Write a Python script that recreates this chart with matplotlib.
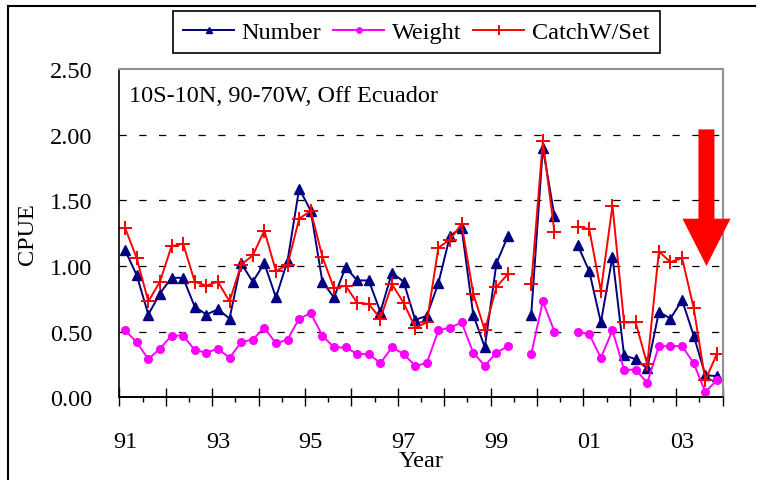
import numpy as np
import matplotlib
matplotlib.use("Agg")
import matplotlib.pyplot as plt
from matplotlib.lines import Line2D
from matplotlib.patches import FancyArrow

plt.rcParams['font.family'] = ['Liberation Serif', 'DejaVu Serif']

nan = np.nan

# quarterly CPUE, 1991 Q1 .. 2003 Q4 (gaps = no data)
number = [1.12, 0.93, 0.63, 0.79, 0.91, 0.91, 0.69, 0.63, 0.67, 0.60,
          1.02, 0.88, 1.02, 0.76, 1.04, 1.59, 1.42, 0.88, 0.76, 0.99,
          0.89, 0.89, 0.65, 0.95, 0.88, 0.59, 0.62, 0.87, 1.23, 1.29,
          0.63, 0.38, 1.02, 1.23, nan, 0.63, 1.90, 1.38, nan, 1.16,
          0.96, 0.57, 1.07, 0.32, 0.29, 0.22, 0.65, 0.60, 0.74, 0.47,
          0.17, 0.16]
weight = [0.51, 0.42, 0.29, 0.37, 0.47, 0.47, 0.36, 0.34, 0.37, 0.30,
          0.42, 0.44, 0.53, 0.41, 0.44, 0.60, 0.64, 0.47, 0.38, 0.38,
          0.33, 0.33, 0.26, 0.38, 0.33, 0.24, 0.26, 0.51, 0.53, 0.57,
          0.34, 0.24, 0.34, 0.39, nan, 0.33, 0.73, 0.50, nan, 0.50,
          0.48, 0.30, 0.51, 0.21, 0.21, 0.11, 0.39, 0.39, 0.39, 0.26,
          0.04, 0.13]
catch_set = [1.29, 1.06, 0.73, 0.88, 1.15, 1.17, 0.88, 0.85, 0.88, 0.73,
             1.01, 1.08, 1.27, 0.96, 1.01, 1.36, 1.42, 1.07, 0.83, 0.85,
             0.72, 0.71, 0.60, 0.86, 0.72, 0.53, 0.57, 1.14, 1.20, 1.32,
             0.79, 0.51, 0.84, 0.94, nan, 0.86, 1.95, 1.26, nan, 1.30,
             1.28, 0.81, 1.46, 0.57, 0.57, 0.25, 1.11, 1.03, 1.06, 0.68,
             0.13, 0.33]
year_labels = ['91', '93', '95', '97', '99', '01', '03']
y_ticks = [0.0, 0.5, 1.0, 1.5, 2.0, 2.5]

# big red "decline" arrow (x in quarters, y in CPUE)
arrow_x, arrow_top, arrow_tip = 50.1, 2.04, 1.0

FS = 17.5
n = len(number)
x = np.arange(n)

fig = plt.figure(figsize=(7.6, 4.81), dpi=100)
ax = fig.add_axes([119.3 / 760, 1 - 398.3 / 481, 603.4 / 760, 328.3 / 481])

ax.plot(x, number, color='#000080', lw=1.4, marker='^', ms=6.5, label='Number')
ax.plot(x, weight, color='#FF00FF', lw=1.4, marker='o', ms=5.5, label='Weight')
ax.plot(x, catch_set, color='#FF0000', lw=1.4, marker='+', ms=10, mew=1.4,
        label='CatchW/Set')

ax.set_xlim(-0.5, n - 0.5)
ax.set_ylim(0, 2.5)

# y axis
ax.set_yticks(y_ticks)
ax.set_yticklabels([f"{v:.2f}" for v in y_ticks], fontsize=FS)
ax.tick_params(axis='y', direction='in', length=0, pad=19.5)
for v in y_ticks[1:-1]:
    ax.axhline(v, color='black', lw=0.9, ls=(0, (5.8, 10)), zorder=0.5)

# x axis: long ticks at year boundaries, short at half years, labels every 2 yrs
ax.set_xticks(np.arange(-0.5, n, 4))
ax.set_xticklabels([])
ax.tick_params(axis='x', which='major', direction='inout', length=12.5, width=1.0)
ax.set_xticks(np.arange(0, n, 8), year_labels, minor=True, fontsize=FS)
ax.tick_params(axis='x', which='minor', length=0, pad=24)
sec = ax.secondary_xaxis('bottom')
sec.set_xticks(np.arange(1.5, n, 4))
sec.set_xticklabels([])
sec.tick_params(axis='x', direction='out', length=3.5, width=1.0)

ax.set_xlabel('Year', fontsize=FS, labelpad=-1)
ax.set_ylabel('CPUE', fontsize=FS, labelpad=8)

for s in ['top', 'right']:
    ax.spines[s].set_color('#909090')
    ax.spines[s].set_linewidth(1.5)
for s in ['left', 'bottom']:
    ax.spines[s].set_linewidth(1.2)
sec.spines['bottom'].set_linewidth(1.2)

ax.text(0.016, 0.9025, '10S-10N, 90-70W, Off Ecuador', transform=ax.transAxes,
        fontsize=FS, va='baseline', ha='left')

ax.add_patch(FancyArrow(arrow_x, arrow_top, 0, arrow_tip - arrow_top,
                        width=1.38, head_width=4.14, head_length=0.36,
                        length_includes_head=True, color='red', lw=0,
                        clip_on=False, zorder=5))

leg = fig.legend(loc='upper left', bbox_to_anchor=(173 / 760, 1 - 12 / 481),
                 ncol=3, fontsize=FS, frameon=True, fancybox=False,
                 edgecolor='black', framealpha=1, borderaxespad=0,
                 handlelength=2.1, handletextpad=0.3, columnspacing=0.5,
                 borderpad=0.42, markerscale=0.7)
leg.get_frame().set_linewidth(1.2)

# outer frame (left and top edges visible)
fig.add_artist(Line2D([7.5 / 760, 7.5 / 760], [0, 1 - 7 / 481],
                      transform=fig.transFigure, color='black', lw=1.5))
fig.add_artist(Line2D([7.5 / 760, 755 / 760], [1 - 7 / 481, 1 - 7 / 481],
                      transform=fig.transFigure, color='black', lw=1.5))

fig.savefig('out.png', dpi=100)
